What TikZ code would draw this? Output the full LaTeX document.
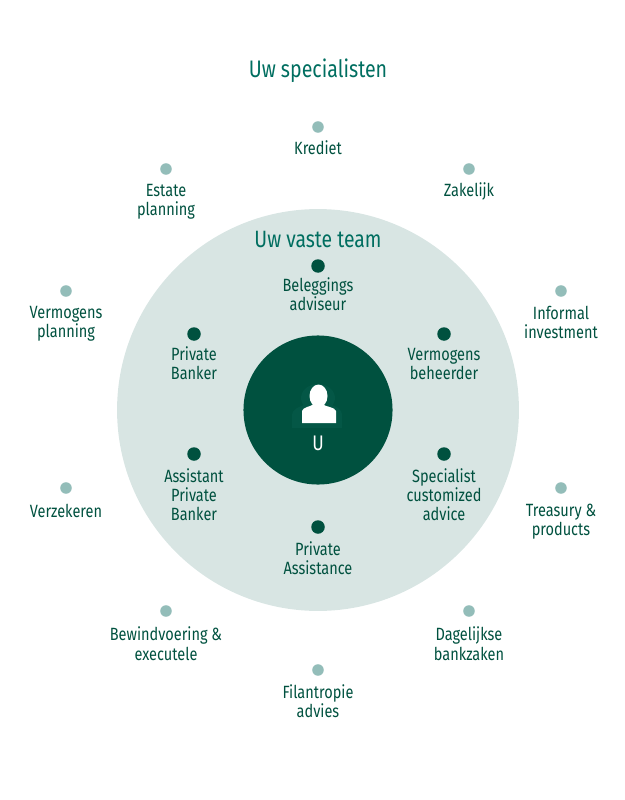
\documentclass[tikz,border=0pt]{standalone}
\usepackage{fontspec}
\setmainfont[FakeStretch=0.82]{Fira Sans}
\usetikzlibrary{positioning}
\definecolor{donker}{HTML}{00513F}
\definecolor{titel}{HTML}{006E60}
\definecolor{vlak}{HTML}{D8E5E3}
\definecolor{stip}{HTML}{93BDB9}
\definecolor{schaduw}{HTML}{045746}
\tikzset{
  teamdot/.style={circle,fill=donker,minimum size=9.6pt,inner sep=0pt},
  specdot/.style={circle,fill=stip,minimum size=8.2pt,inner sep=0pt},
  lbl/.style={align=center,text=donker,font=\fontsize{12.6}{13.6}\selectfont,inner sep=0pt},
  kop/.style={text=titel,inner sep=0pt},
}
\begin{document}
\begin{tikzpicture}[x=0.025cm,y=-0.025cm]
\useasboundingbox (0,0) rectangle (624,800);

\node[circle,fill=vlak,minimum size=285.8pt,inner sep=0pt] (team) at (318,410) {};
\node[circle,fill=donker,minimum size=106pt,inner sep=0pt] (u) at (318,410) {};

\node[kop,font=\fontsize{17}{20}\selectfont] (specialisten) at (318,71) {Uw specialisten};
\node[kop,font=\fontsize{16.8}{20}\selectfont] (vasteteam) at (318,240) {Uw vaste team};

% icon in the centre
\fill[schaduw] (292,428) -- (292,416) .. controls (292,408) and (300,407) .. (306,404) -- (330,404) .. controls (336,407) and (342,408) .. (342,416) -- (342,428) -- cycle;
\fill[schaduw] (318,398) ellipse (17 and 14);
\fill[white] (302,423) -- (302,411) .. controls (303,407) and (310,407) .. (314,404) -- (322,404) .. controls (326,407) and (335,407) .. (336,411) -- (336,423) -- cycle;
\fill[white] (318.5,396) ellipse (9 and 11.5);
\node[inner sep=0pt,text=white,font=\fontsize{15}{17}\selectfont] (ulabel) at (318,443) {U};

% team
\node[teamdot] (belegging) at (318,266) {};
\node[teamdot] (vermogensb) at (444,334) {};
\node[teamdot] (customized) at (444,454) {};
\node[teamdot] (assistance) at (318,527) {};
\node[teamdot] (assistant) at (194,454) {};
\node[teamdot] (banker) at (194,334) {};

\node[lbl,below=3pt of belegging] (beleggingl) {Beleggings\\adviseur};
\node[lbl,below=5pt of vermogensb] (vermogensbl) {Vermogens\\beheerder};
\node[lbl,below=5pt of customized] (customizedl) {Specialist\\customized\\advice};
\node[lbl,below=5pt of assistance] (assistancel) {Private\\Assistance};
\node[lbl,below=5pt of assistant] (assistantl) {Assistant\\Private\\Banker};
\node[lbl,below=4pt of banker] (bankerl) {Private\\Banker};

% specialists
\node[specdot] (krediet) at (318,127) {};
\node[specdot] (zakelijk) at (469,169) {};
\node[specdot] (informal) at (561,291) {};
\node[specdot] (treasury) at (561,488) {};
\node[specdot] (dagelijks) at (469,611) {};
\node[specdot] (filantropie) at (318,670) {};
\node[specdot] (bewind) at (166,611) {};
\node[specdot] (verzekeren) at (66,488) {};
\node[specdot] (planning) at (66,291) {};
\node[specdot] (estate) at (166,169) {};

\node[lbl,below=5.5pt of krediet] (kredietl) {Krediet};
\node[lbl,below=5.5pt of zakelijk] (zakelijkl) {Zakelijk};
\node[lbl,below=6pt of informal] (informall) {Informal\\investment};
\node[lbl,below=7pt of treasury] (treasuryl) {Treasury \&\\products};
\node[lbl,below=7pt of dagelijks] (dagelijksl) {Dagelijkse\\bankzaken};
\node[lbl,below=6pt of filantropie] (filantropiel) {Filantropie\\advies};
\node[lbl,below=7pt of bewind] (bewindl) {Bewindvoering \&\\executele};
\node[lbl,below=7pt of verzekeren] (verzekerenl) {Verzekeren};
\node[lbl,below=6.5pt of planning] (planningl) {Vermogens\\planning};
\node[lbl,below=6.5pt of estate] (estatel) {Estate\\planning};
\end{tikzpicture}
\end{document}
